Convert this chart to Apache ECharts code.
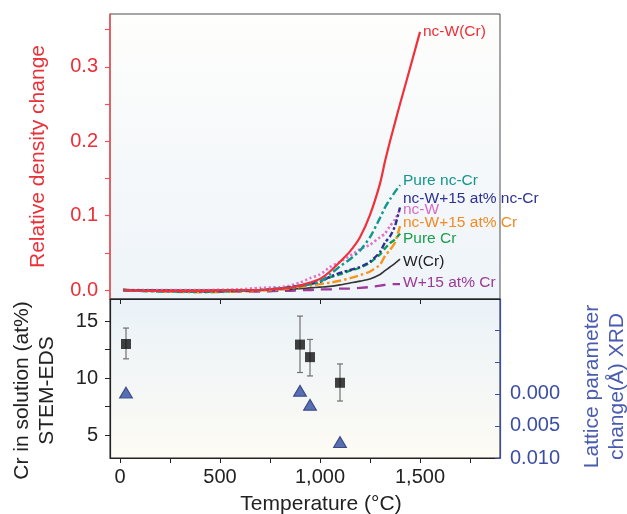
<!DOCTYPE html>
<html><head><meta charset="utf-8">
<script src="https://cdn.jsdelivr.net/npm/echarts@6/dist/echarts.min.js"></script>
<style>html,body{margin:0;padding:0;background:#fff}#c{width:627px;height:514px}</style>
</head><body><div id="c"></div>
<script>
// ---- Top panel: relative density change vs temperature ----
const temps = [15, 200, 400, 600, 700, 800, 850, 900, 950, 1000, 1050, 1100, 1150, 1200, 1250, 1300, 1325, 1350, 1375, 1400, 1450, 1500];
const ncWCr     = [0, -0.001, -0.001, 0, 0, 0.002, 0.003, 0.006, 0.010, 0.015, 0.025, 0.038, 0.052, 0.071, 0.101, 0.143, 0.173, 0.200, 0.225, 0.250, 0.298, 0.347];
const pureNcCr  = [0, -0.002, -0.002, -0.001, 0, 0.002, 0.003, 0.005, 0.008, 0.011, 0.021, 0.032, 0.0415, 0.053, 0.071, 0.097, 0.111, 0.122, 0.132, 0.141, null, null];
const ncW15ncCr = [0, -0.001, -0.002, -0.001, 0, 0.002, 0.004, 0.006, 0.008, 0.011, 0.018, 0.023, 0.027, 0.031, 0.038, 0.051, 0.064, 0.072, 0.086, 0.111, null, null];
const ncW       = [0, 0, 0, 0.001, 0.003, 0.004, 0.006, 0.010, 0.016, 0.021, 0.031, 0.038, 0.046, 0.055, 0.061, 0.071, 0.076, 0.086, 0.095, 0.108, null, null];
const ncW15Cr   = [0, -0.002, -0.003, -0.002, -0.001, 0.001, 0.002, 0.004, 0.006, 0.008, 0.010, 0.0125, 0.016, 0.020, 0.025, 0.034, 0.046, 0.054, 0.064, 0.086, null, null];
const pureCr    = [0, -0.001, -0.002, -0.001, 0, 0.002, 0.004, 0.006, 0.009, 0.0125, 0.017, 0.021, 0.026, 0.030, 0.037, 0.048, 0.056, 0.063, 0.068, 0.076, null, null];
const wCr       = [0, 0, 0, 0, 0, 0.001, 0.001, 0.002, 0.003, 0.004, 0.005, 0.007, 0.0095, 0.012, 0.015, 0.021, 0.026, 0.031, 0.036, 0.0415, null, null];
const w15Cr     = [0, -0.001, -0.002, -0.002, -0.002, -0.001, -0.001, 0, 0, 0.001, 0.001, 0.002, 0.002, 0.003, 0.004, 0.006, 0.007, 0.008, 0.008, 0.008, null, null];

// ---- Bottom panel ----
const pointTemps = [30, 900, 950, 1100];
const crInSolution = [13.0, 12.95, 11.85, 9.6];
const crErrLow = [11.7, 10.5, 10.2, 8.0];
const crErrHigh = [14.4, 15.45, 13.4, 11.25];
const latticeChange = [-0.0002, -0.0005, 0.0017, 0.0075];

// ---- Tick labels ----
const densityTicks = [0, 0.1, 0.2, 0.3];
const densityMinorTicks = [0, 0.05, 0.1, 0.15, 0.2, 0.25, 0.3, 0.35];
const crTicks = [5, 10, 15];
const crMinorTicks = [5, 7.5, 10, 12.5, 15];
const latticeTicks = [0, 0.005, 0.01];
const latticeAllTicks = [-0.01, -0.005, 0, 0.005, 0.01];
const tempTicks = [0, 500, 1000, 1500];
const tempMinorTicks = [0, 250, 500, 750, 1000, 1250, 1500, 1750];

const FONT = 'Liberation Sans, Arial, Helvetica, sans-serif';
const pair = (vals) => temps.map((t, i) => [t, vals[i]]).filter(p => p[1] !== null);

const curveDefs = [
  {name: 'W+15 at% Cr', data: w15Cr, color: '#a0399b', label: '#9b3a96', type: [11, 7], width: 2.4, off: [3, -1.5]},
  {name: 'W(Cr)', data: wCr, color: '#333333', label: '#222222', type: 'solid', width: 1.6, off: [3, 2.5]},
  {name: 'Pure Cr', data: pureCr, color: '#0aa050', label: '#1c9e4e', type: [6, 3], width: 2.4, off: [3, 5.5]},
  {name: 'nc-W+15 at% Cr', data: ncW15Cr, color: '#f7941d', label: '#f28a25', type: [9, 3, 2.5, 3], width: 2.4, off: [3, -3]},
  {name: 'nc-W', data: ncW, color: '#e46fc6', label: '#d86cc4', type: [2.2, 2.5], width: 2.6, off: [3, 0.5]},
  {name: 'nc-W+15 at% nc-Cr', data: ncW15ncCr, color: '#2e318f', label: '#2e318f', type: [6, 2.5, 2.5, 2.5], width: 2.4, off: [3, -9]},
  {name: 'Pure nc-Cr', data: pureNcCr, color: '#0f968e', label: '#14968c', type: [8, 3, 2.5, 3], width: 2.4, off: [3, -4.5]},
  {name: 'nc-W(Cr)', data: ncWCr, color: '#f0303a', label: '#ee2f38', type: 'solid', width: 2.2, off: [3, 0]}
];

const curveSeries = curveDefs.map(d => ({
  name: d.name, type: 'line', xAxisIndex: 0, yAxisIndex: 0,
  data: pair(d.data), showSymbol: false, smooth: 0.2,
  lineStyle: {color: d.color, width: d.width, type: d.type},
  itemStyle: {color: d.color},
  endLabel: {show: true, formatter: d.name, color: d.label, fontSize: 15.5, fontFamily: FONT,
             distance: 0, offset: d.off, align: 'left'},
  z: 3
}));

const chart = echarts.init(document.getElementById('c'), null, {renderer: 'canvas'});
chart.setOption({
  animation: false,
  backgroundColor: '#ffffff',
  grid: [
    {left: 110, top: 14, width: 390, height: 285, show: true, borderColor: '#4d4d4d', borderWidth: 1,
     outerBoundsMode: 'none', containLabel: false,
     backgroundColor: {type: 'linear', x: 0, y: 0, x2: 0, y2: 1,
       colorStops: [{offset: 0, color: '#fefefc'}, {offset: 0.55, color: '#f5f8fa'}, {offset: 1, color: '#eef4f9'}]}},
    {left: 110, top: 299, width: 390, height: 159, show: true, borderColor: '#222', borderWidth: 1,
     outerBoundsMode: 'none', containLabel: false,
     backgroundColor: {type: 'linear', x: 0, y: 0, x2: 0, y2: 1,
       colorStops: [{offset: 0, color: '#eaf2f8'}, {offset: 1, color: '#fdfbf4'}]}}
  ],
  xAxis: [
    {type: 'value', gridIndex: 0, min: -50, max: 1900, axisLine: {show: false}, axisTick: {show: false},
     axisLabel: {show: false}, splitLine: {show: false}},
    {type: 'value', gridIndex: 1, position: 'bottom', min: -50, max: 1900,
     axisLine: {show: true, onZero: false, lineStyle: {color: '#222', width: 1.2}},
     axisTick: {show: true, inside: false, length: 5, customValues: tempMinorTicks, lineStyle: {color: '#222'}},
     axisLabel: {show: true, customValues: tempTicks, margin: 9, fontSize: 20, color: '#222', fontFamily: FONT,
       formatter: v => v.toLocaleString('en-US')},
     splitLine: {show: false},
     name: 'Temperature (°C)', nameLocation: 'middle', nameGap: 36,
     nameTextStyle: {fontSize: 21, color: '#222', fontFamily: FONT, padding: [0, 0, 0, 32]}},
    {type: 'value', gridIndex: 1, position: 'top', min: -50, max: 1900,
     axisLine: {show: true, onZero: false, lineStyle: {color: '#222', width: 1.2}},
     axisTick: {show: true, inside: true, length: 5, customValues: tempTicks, lineStyle: {color: '#222'}},
     axisLabel: {show: false}, splitLine: {show: false}}
  ],
  yAxis: [
    {type: 'value', gridIndex: 0, position: 'left', min: -0.012, max: 0.371,
     axisLine: {show: true, onZero: false, lineStyle: {color: '#f05258', width: 1.6}},
     axisTick: {show: true, inside: false, length: 5, customValues: densityMinorTicks, lineStyle: {color: '#f05258', width: 1.2}},
     axisLabel: {show: true, customValues: densityTicks, margin: 12, fontSize: 20, color: '#ea3039', fontFamily: FONT,
       formatter: v => v.toFixed(1)},
     splitLine: {show: false},
     name: 'Relative density change', nameLocation: 'middle', nameGap: 61, nameRotate: 90,
     nameTextStyle: {fontSize: 21, color: '#ea3039', fontFamily: FONT}},
    {type: 'value', gridIndex: 1, position: 'left', min: 3, max: 16.95,
     axisLine: {show: true, onZero: false, lineStyle: {color: '#222', width: 1.2}},
     axisTick: {show: true, inside: false, length: 5, customValues: crMinorTicks, lineStyle: {color: '#222'}},
     axisLabel: {show: true, customValues: crTicks, margin: 12, fontSize: 20, color: '#222', fontFamily: FONT},
     splitLine: {show: false},
     name: 'Cr in solution (at%)\nSTEM-EDS', nameLocation: 'middle', nameGap: 50, nameRotate: 90,
     nameTextStyle: {fontSize: 21, color: '#222', fontFamily: FONT, lineHeight: 25, align: 'center', padding: [0, 24, 0, 0]}},
    {type: 'value', gridIndex: 1, position: 'right', min: -0.0148, max: 0.010, inverse: true,
     axisLine: {show: true, onZero: false, lineStyle: {color: '#3b4ea6', width: 1.2}},
     axisTick: {show: true, inside: true, length: 5, customValues: latticeAllTicks, lineStyle: {color: '#3b4ea6'}},
     axisLabel: {show: true, customValues: latticeTicks, margin: 10, fontSize: 20, color: '#3b4ea6', fontFamily: FONT,
       formatter: v => v.toFixed(3)},
     splitLine: {show: false},
     name: 'Lattice parameter\nchange(Å) XRD', nameLocation: 'middle', nameGap: 80, nameRotate: 90,
     nameTextStyle: {fontSize: 21, color: '#4a5cb0', fontFamily: FONT, lineHeight: 25, align: 'center', padding: [0, 16, 0, 0]}}
  ],
  series: curveSeries.concat([
    {type: 'custom', name: 'err', xAxisIndex: 1, yAxisIndex: 1,
     data: pointTemps.map((t, i) => [t, crErrLow[i], crErrHigh[i]]),
     renderItem: function (params, api) {
       const lo = api.coord([api.value(0), api.value(1)]);
       const hi = api.coord([api.value(0), api.value(2)]);
       const cap = 3;
       const st = {stroke: '#707070', lineWidth: 1.2};
       return {type: 'group', children: [
         {type: 'line', shape: {x1: lo[0], y1: lo[1], x2: hi[0], y2: hi[1]}, style: st},
         {type: 'line', shape: {x1: lo[0] - cap, y1: lo[1], x2: lo[0] + cap, y2: lo[1]}, style: st},
         {type: 'line', shape: {x1: hi[0] - cap, y1: hi[1], x2: hi[0] + cap, y2: hi[1]}, style: st}
       ]};
     }, z: 4},
    {type: 'scatter', name: 'Cr STEM-EDS', xAxisIndex: 1, yAxisIndex: 1,
     data: pointTemps.map((t, i) => [t, crInSolution[i]]),
     symbol: 'rect', symbolSize: 10, itemStyle: {color: '#111'}, z: 5},
    {type: 'scatter', name: 'Lattice XRD', xAxisIndex: 1, yAxisIndex: 2,
     data: pointTemps.map((t, i) => [t, latticeChange[i]]),
     symbol: 'triangle', symbolSize: [13, 11], itemStyle: {color: '#2f4c9f', borderColor: '#1d2f78', borderWidth: 1}, z: 5}
  ])
});
</script></body></html>
